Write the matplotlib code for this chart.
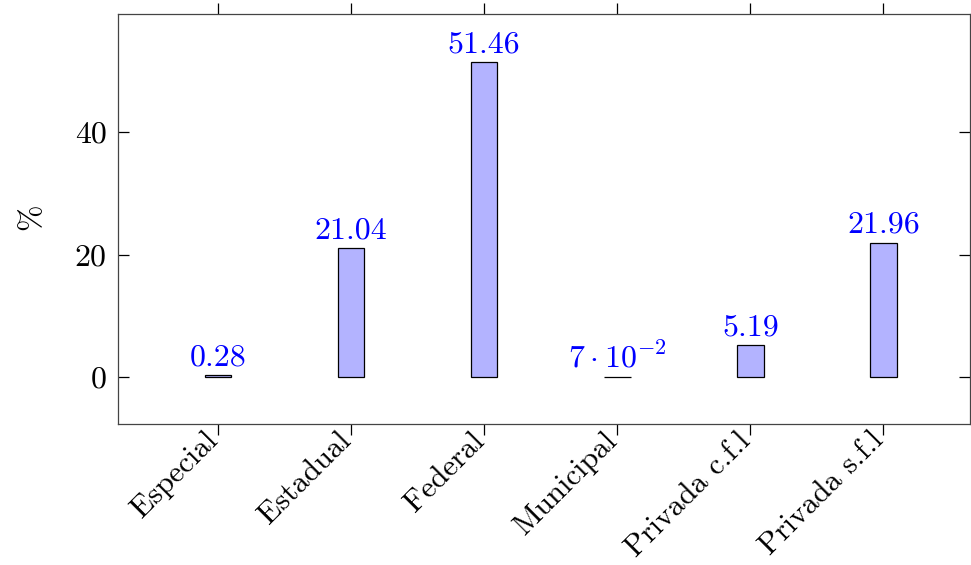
import matplotlib
matplotlib.use("Agg")
import matplotlib.pyplot as plt
from matplotlib.transforms import ScaledTranslation

plt.rcParams['font.family'] = 'serif'
plt.rcParams['font.serif'] = ['cmr10']
plt.rcParams['mathtext.fontset'] = 'cm'
plt.rcParams['axes.formatter.use_mathtext'] = True

categories = ['Especial', 'Estadual', 'Federal', 'Municipal', 'Privada c.f.l', 'Privada s.f.l']
values = [0.28, 21.04, 51.46, 0.07, 5.19, 21.96]
value_labels = ['0.28', '21.04', '51.46', r'$7\cdot10^{-2}$', '5.19', '21.96']
y_ticks = [0, 20, 40]

fs = 23

fig = plt.figure(figsize=(9.71, 5.65), dpi=100)
ax = fig.add_axes([0.1215, 0.2496, 0.8775, 0.7256])

x = list(range(len(categories)))
ax.bar(x, values, width=0.2, color='#b3b3ff', edgecolor='black', linewidth=0.9)

for xi, v, lab in zip(x, values, value_labels):
    ax.annotate(lab, (xi, v), xytext=(0, 7), textcoords='offset points',
                ha='center', va='baseline', color='blue', fontsize=fs)

ax.set_xlim(-0.75, 5.65)
ax.set_ylim(-7.67, 59.3)
ax.set_yticks(y_ticks)
ax.set_yticklabels([str(t) for t in y_ticks], fontsize=fs)
ax.set_xticks(x)
ax.set_xticklabels(categories, rotation=45, ha='right', va='center', fontsize=22,
                   rotation_mode='anchor')
ax.set_ylabel(r'$\%$', fontsize=fs, labelpad=20)

ax.tick_params(axis='x', direction='out', length=8, width=0.9, top=True, bottom=True, pad=1)
ax.tick_params(axis='y', direction='in', length=8, width=0.9, left=True, right=True, pad=8)
for s in ax.spines.values():
    s.set_linewidth(0.9)
    s.set_color('#444444')

shift = ScaledTranslation(-3 / 72, 0, fig.dpi_scale_trans)
for lbl in ax.get_xticklabels():
    lbl.set_transform(lbl.get_transform() + shift)

fig.savefig('out.png', dpi=100)
